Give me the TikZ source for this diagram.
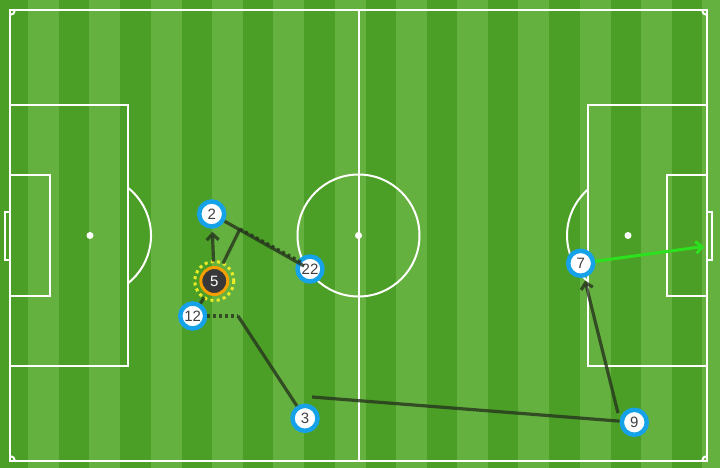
\documentclass[tikz,border=0pt]{standalone}
\usepackage{fontspec}
\setmainfont{Liberation Sans}
\usetikzlibrary{arrows.meta}
\definecolor{turfdark}{RGB}{75,158,38}
\definecolor{turflight}{RGB}{101,177,64}
\definecolor{ringblue}{RGB}{22,162,232}
\definecolor{passdark}{RGB}{38,52,30}
\definecolor{runcolour}{RGB}{45,225,30}
\definecolor{keyorange}{RGB}{245,160,0}
\definecolor{keyyellow}{RGB}{235,235,40}

\begin{document}
\begin{tikzpicture}[x=1pt,y=-1pt,
  player/.style={circle,fill=white,draw=ringblue,line width=4.5pt,minimum size=25pt,inner sep=0pt,
    text=black!75,font=\fontsize{15}{15}\selectfont},
  keyplayer/.style={circle,fill=black!78,draw=keyorange,line width=3pt,minimum size=27pt,inner sep=0pt,
    outer sep=6pt,text=white,font=\fontsize{15}{15}\selectfont},
  pitchline/.style={white,line width=2pt},
  pass/.style={passdark,opacity=0.8,line width=3.2pt},
  carry/.style={pass,dash pattern=on 3pt off 3pt},
  run/.style={runcolour,line width=3pt},
  passtip/.style={-{Straight Barb[length=6pt,width=12pt]},shorten >=3pt}]
\useasboundingbox (0,0) rectangle (720,468);
% turf
\fill[turfdark] (0,0) rectangle (720,468);
\foreach \k in {0,...,11}
  \fill[turflight] (28+61.3*\k,0) rectangle ++(31,468);
% markings
\draw[pitchline] (10,10) rectangle (707,461);
\draw[pitchline] (358.5,10) -- (358.5,461);
\draw[pitchline] (358.5,235.5) circle (61);
\fill[white] (358.5,235.5) circle (3.5);
\draw[pitchline] (10,105) rectangle (128,366);
\draw[pitchline] (10,175) rectangle (50,296);
\draw[pitchline] (5,212) rectangle (10,260);
\fill[white] (90,235.5) circle (3.5);
\draw[pitchline] (128,187.8) arc (-51.5:51.5:61);
\draw[pitchline] (588,105) rectangle (707,366);
\draw[pitchline] (667,175) rectangle (707,296);
\draw[pitchline] (707,212) rectangle (712,260);
\fill[white] (628,235.5) circle (3.5);
\draw[pitchline] (588,281.5) arc (131:229:61);
\draw[pitchline] (15,10) arc (0:90:5);
\draw[pitchline] (702,10) arc (180:90:5);
\draw[pitchline] (10,456) arc (-90:0:5);
\draw[pitchline] (702,461) arc (180:270:5);
% players
\node[player] (n2) at (211.7,214) {2};
\node[keyplayer] (n5) at (214.3,281) {5};
\draw[keyyellow,line width=3pt,dash pattern=on 3pt off 3.3pt] (n5.center) circle (19.5);
\node[player] (n12) at (192.7,316) {12};
\node[player] (n22) at (310,269) {22};
\node[player] (n3) at (305,418.3) {3};
\node[player] (n9) at (634.3,422.3) {9};
\node[player] (n7) at (580.7,263.3) {7};
% turning points
\coordinate (b5) at (240,229);
\coordinate (e22) at (304,266);
\coordinate (d22) at (301,262);
\coordinate (c12) at (238,316);
\coordinate (s3) at (312,397);
\coordinate (s9) at (618,413);
\coordinate (g7) at (707,246);
% moves
\draw[pass,passtip] (n5) -- (n2);
\draw[pass] (n5) -- (b5);
\draw[carry] (b5) -- (d22);
\draw[pass] (n2) -- (e22);
\draw[pass] (n12) -- (n5);
\draw[carry] (n12) -- (c12);
\draw[pass] (c12) -- (n3);
\draw[pass] (s3) -- (n9);
\draw[pass,passtip] (s9) -- (n7);
\draw[run,passtip] (n7) -- (g7);
\end{tikzpicture}
\end{document}
